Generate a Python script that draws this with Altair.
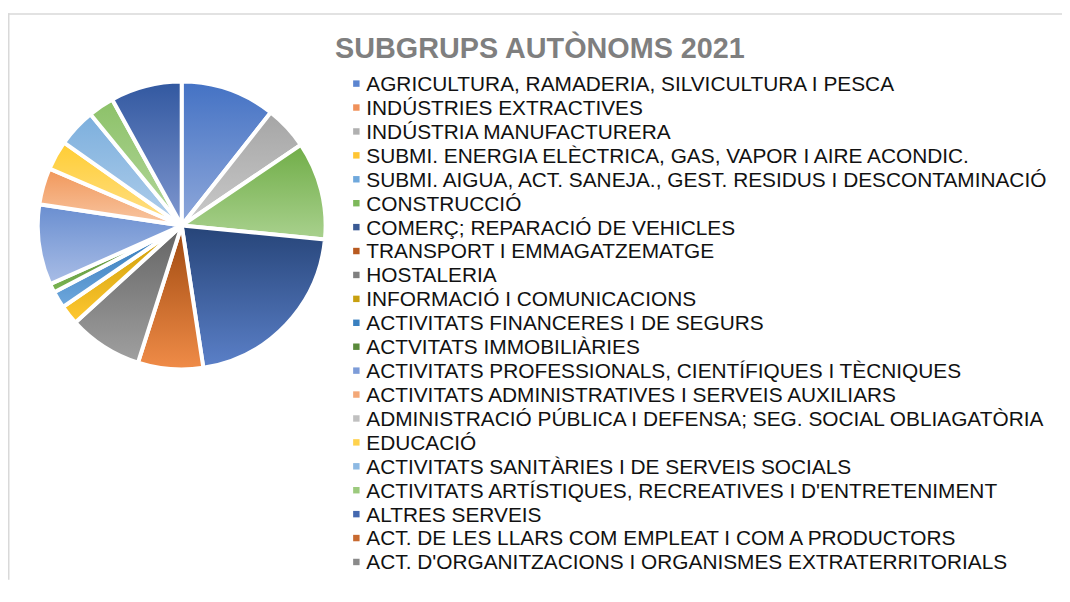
import altair as alt
import pandas as pd

# ---------------- data ----------------
categories = [
    "AGRICULTURA, RAMADERIA, SILVICULTURA I PESCA",
    "INDÚSTRIES EXTRACTIVES",
    "INDÚSTRIA MANUFACTURERA",
    "SUBMI. ENERGIA ELÈCTRICA, GAS, VAPOR I AIRE ACONDIC.",
    "SUBMI. AIGUA, ACT. SANEJA., GEST. RESIDUS I DESCONTAMINACIÓ",
    "CONSTRUCCIÓ",
    "COMERÇ; REPARACIÓ DE VEHICLES",
    "TRANSPORT I EMMAGATZEMATGE",
    "HOSTALERIA",
    "INFORMACIÓ I COMUNICACIONS",
    "ACTIVITATS FINANCERES I DE SEGURS",
    "ACTVITATS IMMOBILIÀRIES",
    "ACTIVITATS PROFESSIONALS, CIENTÍFIQUES I TÈCNIQUES",
    "ACTIVITATS ADMINISTRATIVES I SERVEIS AUXILIARS",
    "ADMINISTRACIÓ PÚBLICA I DEFENSA; SEG. SOCIAL OBLIAGATÒRIA",
    "EDUCACIÓ",
    "ACTIVITATS SANITÀRIES I DE SERVEIS SOCIALS",
    "ACTIVITATS ARTÍSTIQUES, RECREATIVES I D'ENTRETENIMENT",
    "ALTRES SERVEIS",
    "ACT. DE LES LLARS COM EMPLEAT I COM A PRODUCTORS",
    "ACT. D'ORGANITZACIONS I ORGANISMES EXTRATERRITORIALS",
]
shares = [10.6, 0.0, 4.9, 0.0, 0.0, 11.0, 21.0, 7.3, 8.3, 2.2, 1.9, 1.0,
          9.0, 4.1, 0.0, 3.3, 4.3, 2.9, 8.0, 0.0, 0.0]
title_text = "SUBGRUPS AUTÒNOMS 2021"

# ---------------- styles ----------------
legend_colors = ["#5B85D0", "#F0915A", "#B0B0B0", "#FFC533", "#6FA8DC", "#7DB85A",
                 "#3A5A94", "#B85A20", "#808080", "#C8A010", "#3A80C0", "#5A8A3A",
                 "#7D9CD8", "#F3A878", "#C0C0C0", "#FFD24D", "#8DB9E3", "#9CCA7D",
                 "#4468AF", "#C86A30", "#8A8A8A"]
grad_top = ["#4472C4", "#ED7D31", "#A5A5A5", "#FFC000", "#5B9BD5", "#70AD47",
            "#264478", "#9E480E", "#636363", "#C99A06", "#2E75B6", "#548235",
            "#698ED0", "#F1975A", "#B7B7B7", "#FFCD33", "#7CAFDD", "#8CC168",
            "#3258A0", "#C55A11", "#7C7C7C"]
grad_bottom = ["#8FA8DA", "#F5B48A", "#CACACA", "#FFD966", "#9DC3E6", "#A9D18E",
               "#5B80C8", "#F08C48", "#A0A0A0", "#FFC830", "#6FA8DD", "#7AB552",
               "#A9BDE6", "#F8C6A2", "#D6D6D6", "#FFE08A", "#B0CEEB", "#B5D89D",
               "#8098D0", "#E89A66", "#B0B0B0"]

W, H = 1062, 574
CX, CY, R = 175, 217, 145

df = pd.DataFrame({"cat": categories, "value": shares, "idx": list(range(len(categories)))})

base = (
    alt.Chart(df)
    .transform_joinaggregate(total="sum(value)")
    .transform_window(cum="sum(value)", sort=[alt.SortField("idx")], frame=[None, 0])
    .transform_calculate(t0="(datum.cum - datum.value) / datum.total",
                         t1="datum.cum / datum.total")
)

layers = []
for i, c in enumerate(categories):
    if shares[i] <= 0:
        continue
    grad = alt.Gradient(
        gradient="linear", x1=0, x2=0, y1=0, y2=1,
        stops=[alt.GradientStop(color=grad_top[i], offset=0),
               alt.GradientStop(color=grad_bottom[i], offset=1)],
    )
    layers.append(
        base.transform_filter(f"datum.idx == {i}")
        .mark_arc(fill=grad, stroke="white", strokeWidth=4, radius=R)
        .encode(
            theta=alt.Theta("t0:Q", scale=alt.Scale(domain=[0, 1])),
            theta2="t1:Q",
            x=alt.value(CX),
            y=alt.value(CY),
        )
    )

yscale = alt.Scale(type="point", domain=categories, range=[74, 556], padding=0)

symbols = alt.Chart(df).mark_square(size=42, opacity=1).encode(
    x=alt.value(351),
    y=alt.Y("cat:N", scale=yscale, axis=None),
    color=alt.Color("cat:N", scale=alt.Scale(domain=categories, range=legend_colors), legend=None),
)

labels = alt.Chart(df).mark_text(
    align="left", baseline="alphabetic", dy=7.5, fontSize=21,
    font="Liberation Sans", color="#111111",
).encode(
    x=alt.value(361),
    y=alt.Y("cat:N", scale=yscale, axis=None),
    text="cat:N",
)

title = alt.Chart(pd.DataFrame({"t": [title_text]})).mark_text(
    align="center", baseline="alphabetic", fontSize=29, fontWeight="bold",
    font="Liberation Sans", color="#7F7F7F",
).encode(x=alt.value(536), y=alt.value(48), text="t:N")

border_top = alt.Chart(pd.DataFrame({"a": [0]})).mark_rule(color="#D9D9D9", strokeWidth=1.5).encode(
    x=alt.value(0), x2=alt.value(W), y=alt.value(3.75)
)
border_left = alt.Chart(pd.DataFrame({"a": [0]})).mark_rule(color="#D9D9D9", strokeWidth=1.5).encode(
    x=alt.value(0.75), y=alt.value(3), y2=alt.value(H)
)

chart = alt.layer(border_top, border_left, *layers, symbols, labels, title).properties(
    width=W, height=H, padding=0, autosize=alt.AutoSizeParams(type="none"),
).configure_view(stroke=None)

chart.save("out.html", embed_options={"renderer": "svg", "actions": False})
